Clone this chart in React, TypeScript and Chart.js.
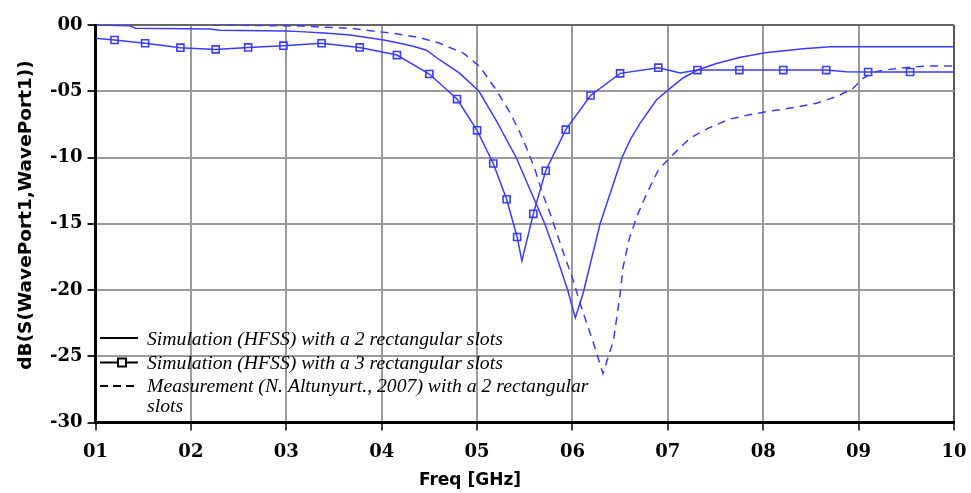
import React, { useEffect, useRef } from "react";
import { Chart, registerables } from "chart.js";

Chart.register(...registerables);

// ---- data ----
const xTickValues = [1, 2, 3, 4, 5, 6, 7, 8, 9, 10];
const xTickLabels = ["01", "02", "03", "04", "05", "06", "07", "08", "09", "10"];
const yTickValues = [0, -5, -10, -15, -20, -25, -30];
const yTickLabels = ["00", "-05", "-10", "-15", "-20", "-25", "-30"];

// Simulation (HFSS) with 2 rectangular slots  [GHz, dB]
const sim2Freq = [1, 1.35, 1.42, 2.2, 2.3, 3.0, 3.14, 3.4, 3.67, 4.02, 4.19, 4.33, 4.47, 4.61, 4.82, 5.02, 5.2, 5.41, 5.59, 5.71, 5.83, 5.95, 6.03, 6.11, 6.29, 6.52, 6.61, 6.71, 6.88, 7.02, 7.16, 7.31, 7.51, 7.75, 8.02, 8.42, 8.7, 10];
const sim2dB = [0, -0.05, -0.25, -0.3, -0.4, -0.45, -0.5, -0.6, -0.75, -1.13, -1.38, -1.6, -1.9, -2.64, -3.65, -5.0, -7.2, -10.0, -13.0, -15.0, -17.4, -20.0, -22.1, -20.3, -15.0, -10.0, -8.6, -7.4, -5.66, -4.8, -4.0, -3.4, -2.9, -2.45, -2.1, -1.8, -1.64, -1.64];

// Simulation (HFSS) with 3 rectangular slots: full trace
const sim3Freq = [1.0, 1.2, 1.52, 1.89, 2.26, 2.6, 2.97, 3.37, 3.77, 4.16, 4.5, 4.79, 5.0, 5.17, 5.31, 5.42, 5.47, 5.59, 5.72, 5.93, 6.19, 6.5, 6.9, 7.13, 7.31, 7.75, 8.21, 8.66, 8.87, 9.1, 9.54, 10];
const sim3dB = [-1.0, -1.13, -1.38, -1.71, -1.84, -1.69, -1.56, -1.38, -1.69, -2.27, -3.7, -5.59, -7.95, -10.45, -13.15, -16.0, -17.8, -14.25, -11.0, -7.9, -5.32, -3.65, -3.22, -3.62, -3.4, -3.4, -3.4, -3.4, -3.52, -3.55, -3.55, -3.55];
// marker positions of the 3-slot trace
const sim3MarkFreq = [1.2, 1.52, 1.89, 2.26, 2.6, 2.97, 3.37, 3.77, 4.16, 4.5, 4.79, 5.0, 5.17, 5.31, 5.42, 5.59, 5.72, 5.93, 6.19, 6.5, 6.9, 7.31, 7.75, 8.21, 8.66, 9.1, 9.54];
const sim3MarkdB = [-1.13, -1.38, -1.71, -1.84, -1.69, -1.56, -1.38, -1.69, -2.27, -3.7, -5.59, -7.95, -10.45, -13.15, -16.0, -14.25, -11.0, -7.9, -5.32, -3.65, -3.22, -3.4, -3.4, -3.4, -3.4, -3.55, -3.55];

// Measurement (N. Altunyurt, 2007) with 2 rectangular slots
const measFreq = [2.23, 3.14, 3.67, 4.12, 4.4, 4.61, 4.86, 5.03, 5.2, 5.33, 5.43, 5.52, 5.61, 5.68, 5.76, 5.85, 5.92, 6.01, 6.08, 6.15, 6.22, 6.32, 6.43, 6.5, 6.53, 6.6, 6.69, 6.78, 6.9, 7.03, 7.23, 7.42, 7.65, 7.84, 8.07, 8.35, 8.56, 8.77, 8.94, 9.05, 9.19, 9.4, 9.71, 10];
const measdB = [0, -0.08, -0.25, -0.63, -0.95, -1.38, -2.14, -3.15, -4.9, -6.42, -7.8, -9.3, -10.95, -12.6, -14.1, -16.0, -17.5, -19.3, -21.0, -22.5, -24.0, -26.3, -23.8, -20.3, -18.3, -16.0, -14.2, -12.7, -10.95, -9.95, -8.55, -7.8, -7.1, -6.8, -6.5, -6.2, -5.9, -5.4, -4.8, -4.0, -3.5, -3.27, -3.1, -3.1];

const legendLabels = [
  "Simulation (HFSS) with a 2 rectangular slots",
  "Simulation (HFSS) with a 3 rectangular slots",
  "Measurement (N. Altunyurt., 2007) with a 2 rectangular",
  "slots",
];
const yTitle = "dB(S(WavePort1,WavePort1))";
const xTitle = "Freq [GHz]";

const BLUE = "#3c3cff";

const zip = (xs: number[], ys: number[]) => xs.map((x, i) => ({ x, y: ys[i] }));

const overlayPlugin = {
  id: "overlay",
  afterDraw(chart: any) {
    const ctx = chart.ctx as CanvasRenderingContext2D;
    ctx.save();
    // axis titles
    ctx.fillStyle = "#000";
    ctx.font = "bold 18.5px 'DejaVu Sans'";
    ctx.textAlign = "center";
    ctx.textBaseline = "middle";
    ctx.save();
    ctx.translate(26, 215);
    ctx.rotate(-Math.PI / 2);
    ctx.fillText(yTitle, 0, 0);
    ctx.restore();
    ctx.font = "bold 17px 'DejaVu Sans'";
    ctx.fillText(xTitle, 470, 481);

    // legend
    const lx0 = 100, lx1 = 138, tx = 147;
    const rows = [338, 362.5, 386, 407];
    ctx.strokeStyle = "#000";
    ctx.lineWidth = 2;
    ctx.beginPath();
    ctx.moveTo(lx0, rows[0]);
    ctx.lineTo(lx1, rows[0]);
    ctx.stroke();
    ctx.beginPath();
    ctx.moveTo(lx0, rows[1]);
    ctx.lineTo(lx1, rows[1]);
    ctx.stroke();
    ctx.fillStyle = "#fff";
    ctx.fillRect(118, rows[1] - 4, 8, 8);
    ctx.strokeRect(118, rows[1] - 4, 8, 8);
    ctx.setLineDash([8, 5]);
    ctx.beginPath();
    ctx.moveTo(lx0, rows[2]);
    ctx.lineTo(lx1, rows[2]);
    ctx.stroke();
    ctx.setLineDash([]);
    ctx.fillStyle = "#000";
    ctx.font = "italic 19.7px 'Liberation Serif'";
    ctx.textAlign = "left";
    ctx.textBaseline = "alphabetic";
    const baselines = [345, 368.5, 392, 412];
    legendLabels.forEach((t, i) => ctx.fillText(t, tx, baselines[i]));
    ctx.restore();
  },
};

export default function App() {
  const ref = useRef<HTMLCanvasElement | null>(null);
  useEffect(() => {
    if (!ref.current) return;
    const tickFont = { family: "'DejaVu Serif'", weight: "bold" as const, size: 18 };
    const chart = new Chart(ref.current, {
      type: "line",
      data: {
        datasets: [
          {
            label: legendLabels[0],
            data: zip(sim2Freq, sim2dB),
            borderColor: BLUE,
            borderWidth: 1.5,
            pointRadius: 0,
            tension: 0,
          },
          {
            label: legendLabels[1],
            data: zip(sim3Freq, sim3dB),
            borderColor: BLUE,
            borderWidth: 1.5,
            pointRadius: 0,
            tension: 0,
          },
          {
            label: "markers",
            data: zip(sim3MarkFreq, sim3MarkdB),
            showLine: false,
            pointStyle: "rect",
            pointRadius: 5,
            pointBorderWidth: 1.6,
            pointBorderColor: BLUE,
            pointBackgroundColor: "rgba(255,255,255,0.5)",
          },
          {
            label: legendLabels[2],
            data: zip(measFreq, measdB),
            borderColor: BLUE,
            borderWidth: 1.5,
            borderDash: [8, 6],
            pointRadius: 0,
            tension: 0,
          },
        ],
      },
      options: {
        animation: false,
        responsive: false,
        layout: { padding: { top: 25, right: 17, left: 0, bottom: 0 } },
        plugins: { legend: { display: false }, tooltip: { enabled: false } },
        scales: {
          x: {
            type: "linear",
            min: 1,
            max: 10,
            afterBuildTicks: (s: any) => {
              s.ticks = xTickValues.map((v) => ({ value: v }));
            },
            afterFit: (s: any) => {
              s.height = 70.5;
              s.paddingLeft = 0;
              s.paddingRight = 0;
            },
            ticks: {
              callback: (v: any) => xTickLabels[xTickValues.indexOf(Number(v))],
              font: tickFont,
              color: "#000",
              padding: 11,
              maxRotation: 0,
              autoSkip: false,
            },
            grid: {
              color: (c: any) => (c.tick && c.tick.value === 10 ? "#555" : "#9a9a9a"),
              lineWidth: 2,
              tickLength: 8,
              tickColor: "#444",
              tickWidth: 2,
            },
            border: { color: "#000", width: 3 },
          },
          y: {
            type: "linear",
            min: -30,
            max: 0,
            afterBuildTicks: (s: any) => {
              s.ticks = yTickValues.map((v) => ({ value: v }));
            },
            afterFit: (s: any) => {
              s.width = 95.5;
              s.paddingTop = 0;
              s.paddingBottom = 0;
            },
            ticks: {
              callback: (v: any) => yTickLabels[yTickValues.indexOf(Number(v))],
              font: tickFont,
              color: "#000",
              padding: 5,
              autoSkip: false,
            },
            grid: {
              color: (c: any) => (c.tick && c.tick.value === 0 ? "#666" : "#9a9a9a"),
              lineWidth: 2,
              tickLength: 8,
              tickColor: "#222",
              tickWidth: 2,
            },
            border: { color: "#000", width: 3 },
          },
        },
      },
      plugins: [overlayPlugin],
    });
    return () => chart.destroy();
  }, []);
  return (
    <div style={{ position: "absolute", left: 0, top: 0, width: 971, height: 493, background: "#fff" }}>
      <canvas ref={ref} width={971} height={493} />
    </div>
  );
}
